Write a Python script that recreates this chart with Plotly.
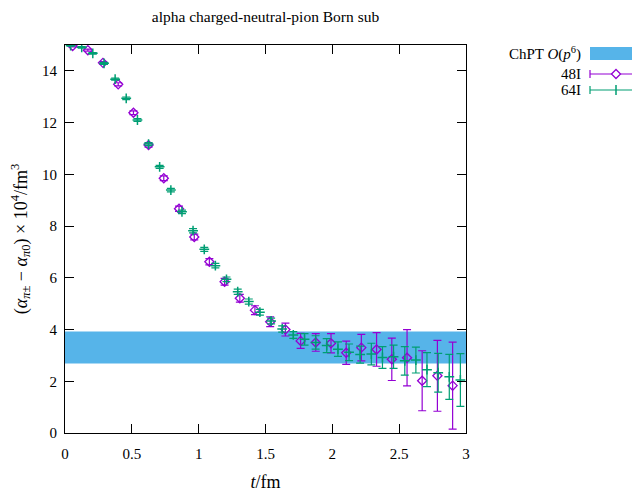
import plotly.graph_objects as go

# ---------------- data ----------------
chpt_x = [0.0, 3.0]
chpt_lo = 2.69
chpt_hi = 3.92

t48 = [0.057, 0.171, 0.284, 0.398, 0.512, 0.625, 0.739, 0.853, 0.967, 1.080,
       1.194, 1.308, 1.421, 1.535, 1.649, 1.763, 1.876, 1.990, 2.104, 2.217,
       2.331, 2.445, 2.559, 2.672, 2.786, 2.900]
a48 = [14.96, 14.80, 14.31, 13.48, 12.38, 11.13, 9.85, 8.67, 7.58, 6.62,
       5.85, 5.21, 4.75, 4.30, 4.00, 3.56, 3.50, 3.47, 3.10, 3.30,
       3.23, 2.85, 2.91, 2.02, 2.21, 1.83]
e48 = [0.03, 0.04, 0.05, 0.06, 0.07, 0.08, 0.09, 0.10, 0.11, 0.12,
       0.13, 0.15, 0.17, 0.19, 0.25, 0.29, 0.34, 0.37, 0.45, 0.51,
       0.65, 0.82, 1.09, 1.16, 1.37, 1.68]

t64 = [0.042, 0.125, 0.208, 0.292, 0.375, 0.458, 0.542, 0.625, 0.708, 0.792,
       0.875, 0.958, 1.042, 1.125, 1.208, 1.292, 1.375, 1.458, 1.542, 1.625,
       1.708, 1.792, 1.875, 1.958, 2.042, 2.125, 2.208, 2.292, 2.375, 2.458,
       2.542, 2.625, 2.708, 2.792, 2.875, 2.958]
a64 = [14.98, 14.91, 14.68, 14.29, 13.68, 12.94, 12.10, 11.17, 10.29, 9.39,
       8.55, 7.82, 7.10, 6.47, 5.94, 5.46, 5.08, 4.67, 4.33, 4.02,
       3.79, 3.62, 3.50, 3.38, 3.24, 3.12, 3.03, 3.05, 2.92, 2.95,
       2.79, 2.82, 2.45, 2.33, 2.17, 2.05]
e64 = [0.02, 0.03, 0.03, 0.04, 0.04, 0.05, 0.05, 0.06, 0.06, 0.07,
       0.07, 0.08, 0.08, 0.09, 0.09, 0.10, 0.10, 0.11, 0.11, 0.12,
       0.13, 0.22, 0.26, 0.27, 0.28, 0.32, 0.33, 0.42, 0.42, 0.45,
       0.55, 0.50, 0.66, 0.75, 0.87, 1.02]

x_ticks = [0, 0.5, 1, 1.5, 2, 2.5, 3]
x_ticklabels = ["0", "0.5", "1", "1.5", "2", "2.5", "3"]
y_ticks = [0, 2, 4, 6, 8, 10, 12, 14]

PURPLE = "#9400d3"
GREEN = "#009e73"
BLUE = "#56b4e9"
FONT = "Liberation Serif"

fig = go.Figure()

# ChPT band
fig.add_trace(go.Scatter(
    x=[chpt_x[0], chpt_x[1], chpt_x[1], chpt_x[0]],
    y=[chpt_lo, chpt_lo, chpt_hi, chpt_hi],
    fill="toself", fillcolor=BLUE, mode="lines",
    line=dict(width=0, color=BLUE), hoverinfo="skip", showlegend=False))

fig.add_trace(go.Scatter(
    x=t48, y=a48, mode="markers",
    marker=dict(symbol="diamond-open", size=7, color=PURPLE,
                line=dict(width=1.3, color=PURPLE)),
    error_y=dict(type="data", array=e48, color=PURPLE, thickness=1.2, width=4),
    showlegend=False))

fig.add_trace(go.Scatter(
    x=t64, y=a64, mode="markers",
    marker=dict(symbol="cross-thin-open", size=7, color=GREEN,
                line=dict(width=1.5, color=GREEN)),
    error_y=dict(type="data", array=e64, color=GREEN, thickness=1.2, width=4),
    showlegend=False))

# page body has an 8px margin: compensate so the plot lands where the reference has it
OFF = 8
FW, FH = 640 - OFF, 493 - OFF
# plot area in window pixels
L, R, T, B = 65, 466, 45, 433
W, H = R - L, B - T
def px(x): return (x - L) / W
def py(y): return (B - y) / H

rows = [("ChPT <i>O</i>(<i>p</i><sup>6</sup>)", 53),
        ("48I", 74),
        ("64I", 90)]
for txt, yy in rows:
    fig.add_annotation(x=px(583), y=py(yy), xref="paper", yref="paper",
                       text=txt, showarrow=False, xanchor="right", yanchor="middle",
                       font=dict(family=FONT, size=15, color="black"))

shapes = []
shapes.append(dict(type="rect", xref="paper", yref="paper",
                   x0=px(590), x1=px(650), y0=py(60), y1=py(47),
                   fillcolor=BLUE, line=dict(width=0)))
# 48I sample
y2 = 74
shapes.append(dict(type="line", xref="paper", yref="paper", x0=px(590), x1=px(650),
                   y0=py(y2), y1=py(y2), line=dict(color=PURPLE, width=1.2)))
shapes.append(dict(type="line", xref="paper", yref="paper", x0=px(590), x1=px(590),
                   y0=py(y2 - 4), y1=py(y2 + 4), line=dict(color=PURPLE, width=1.2)))
cx, r = 616, 4.5
shapes.append(dict(type="path", xref="paper", yref="paper",
                   path=f"M {px(cx-r)},{py(y2)} L {px(cx)},{py(y2-r)} L {px(cx+r)},{py(y2)} L {px(cx)},{py(y2+r)} Z",
                   fillcolor="white", line=dict(color=PURPLE, width=1.3)))
# 64I sample
y3 = 90
shapes.append(dict(type="line", xref="paper", yref="paper", x0=px(590), x1=px(650),
                   y0=py(y3), y1=py(y3), line=dict(color=GREEN, width=1.2)))
shapes.append(dict(type="line", xref="paper", yref="paper", x0=px(590), x1=px(590),
                   y0=py(y3 - 4), y1=py(y3 + 4), line=dict(color=GREEN, width=1.2)))
shapes.append(dict(type="line", xref="paper", yref="paper", x0=px(616), x1=px(616),
                   y0=py(y3 - 5), y1=py(y3 + 5), line=dict(color=GREEN, width=1.5)))

fig.update_layout(
    width=FW, height=FH,
    margin=dict(l=L - OFF, r=FW - (R - OFF), t=T - OFF, b=FH - (B - OFF), autoexpand=False),
    paper_bgcolor="white", plot_bgcolor="white",
    font=dict(family=FONT, size=15, color="black"),
    title=dict(text="alpha charged-neutral-pion Born sub", x=0.5, xref="paper",
               xanchor="center", y=1, yref="container", yanchor="top",
               pad=dict(t=3, b=0),
               font=dict(family=FONT, size=15.5, color="black")),
    shapes=shapes,
    showlegend=False,
)
fig.update_xaxes(range=[0, 3], tickvals=x_ticks, ticktext=x_ticklabels,
                 ticks="inside", ticklen=9, tickcolor="black", mirror="allticks",
                 showline=True, linecolor="black", linewidth=1, showgrid=False,
                 zeroline=False, ticklabelstandoff=7,
                 title=dict(text="<i>t</i>/fm", standoff=14),
                 tickfont=dict(family=FONT, size=15))
fig.update_yaxes(range=[0, 15], tickvals=y_ticks,
                 ticks="inside", ticklen=9, tickcolor="black", mirror="allticks",
                 showline=True, linecolor="black", linewidth=1, showgrid=False,
                 zeroline=False, ticklabelstandoff=4,
                 title=dict(text="(<i>α</i><sub><i>π</i>±</sub> − <i>α</i><sub><i>π</i>0</sub>) × 10<sup>4</sup>/fm<sup>3</sup>",
                            standoff=17),
                 tickfont=dict(family=FONT, size=15))

fig.write_html("out.html")
